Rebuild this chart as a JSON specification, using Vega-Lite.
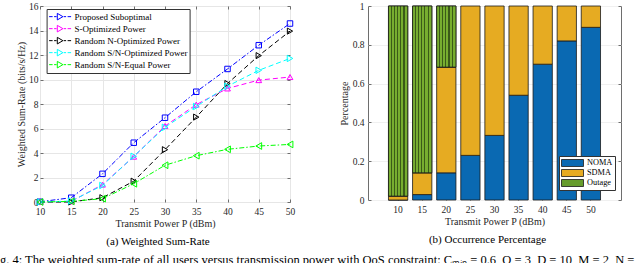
{
  "$schema": "https://vega.github.io/schema/vega-lite/v6.json",
  "background": "white",
  "padding": {"left": 0, "top": 0, "right": 0, "bottom": 0},
  "config": {
    "font": "Liberation Serif",
    "view": {"stroke": "#6e6e6e", "strokeWidth": 1},
    "axis": {
      "labelFont": "Liberation Serif", "labelFontSize": 9.5, "labelColor": "#262626", "labelFlush": false,
      "titleFont": "Liberation Serif", "titleFontSize": 10, "titleFontWeight": "normal", "titleColor": "#262626",
      "gridColor": "#e6e6e6", "gridWidth": 1, "domain": false,
      "tickColor": "#6e6e6e", "tickSize": -3, "labelPadding": 5
    },
    "title": {"font": "Liberation Serif", "fontWeight": "normal", "color": "#000000"}
  },
  "title": {
    "text": "g. 4: The weighted sum-rate of all users versus transmission power with QoS constraint: Cₘᵢₙ = 0.6, Q = 3, D = 10, M = 2, N =",
    "orient": "bottom", "anchor": "start", "dx": -16, "fontSize": 12.5, "offset": 7
  },
  "spacing": 42,
  "resolve": {"scale": {"color": "independent", "shape": "independent", "size": "independent", "strokeDash": "independent"}, "legend": {"color": "independent", "shape": "independent"}},
  "hconcat": [
    {
      "width": 250, "height": 196,
      "title": {"text": "(a) Weighted Sum-Rate", "orient": "bottom", "anchor": "middle", "dx": -7, "fontSize": 11, "offset": 7},
      "data": {"values": [
        {"power": 10, "scheme": "Proposed Suboptimal", "rate": 0.02},
        {"power": 15, "scheme": "Proposed Suboptimal", "rate": 0.35},
        {"power": 20, "scheme": "Proposed Suboptimal", "rate": 2.3},
        {"power": 25, "scheme": "Proposed Suboptimal", "rate": 4.84},
        {"power": 30, "scheme": "Proposed Suboptimal", "rate": 6.88},
        {"power": 35, "scheme": "Proposed Suboptimal", "rate": 9.0},
        {"power": 40, "scheme": "Proposed Suboptimal", "rate": 10.86},
        {"power": 45, "scheme": "Proposed Suboptimal", "rate": 12.8},
        {"power": 50, "scheme": "Proposed Suboptimal", "rate": 14.57},
        {"power": 10, "scheme": "S-Optimized Power", "rate": 0.0},
        {"power": 15, "scheme": "S-Optimized Power", "rate": 0.05},
        {"power": 20, "scheme": "S-Optimized Power", "rate": 1.42},
        {"power": 25, "scheme": "S-Optimized Power", "rate": 3.7},
        {"power": 30, "scheme": "S-Optimized Power", "rate": 6.2},
        {"power": 35, "scheme": "S-Optimized Power", "rate": 7.95},
        {"power": 40, "scheme": "S-Optimized Power", "rate": 9.27},
        {"power": 45, "scheme": "S-Optimized Power", "rate": 9.95},
        {"power": 50, "scheme": "S-Optimized Power", "rate": 10.2},
        {"power": 10, "scheme": "Random N-Optimized Power", "rate": 0.0},
        {"power": 15, "scheme": "Random N-Optimized Power", "rate": 0.0},
        {"power": 20, "scheme": "Random N-Optimized Power", "rate": 0.35},
        {"power": 25, "scheme": "Random N-Optimized Power", "rate": 1.7},
        {"power": 30, "scheme": "Random N-Optimized Power", "rate": 4.27},
        {"power": 35, "scheme": "Random N-Optimized Power", "rate": 6.93},
        {"power": 40, "scheme": "Random N-Optimized Power", "rate": 9.67},
        {"power": 45, "scheme": "Random N-Optimized Power", "rate": 11.95},
        {"power": 50, "scheme": "Random N-Optimized Power", "rate": 13.95},
        {"power": 10, "scheme": "Random S/N-Optimized Power", "rate": 0.0},
        {"power": 15, "scheme": "Random S/N-Optimized Power", "rate": 0.08},
        {"power": 20, "scheme": "Random S/N-Optimized Power", "rate": 1.35},
        {"power": 25, "scheme": "Random S/N-Optimized Power", "rate": 3.73},
        {"power": 30, "scheme": "Random S/N-Optimized Power", "rate": 6.1},
        {"power": 35, "scheme": "Random S/N-Optimized Power", "rate": 7.8},
        {"power": 40, "scheme": "Random S/N-Optimized Power", "rate": 9.45},
        {"power": 45, "scheme": "Random S/N-Optimized Power", "rate": 10.75},
        {"power": 50, "scheme": "Random S/N-Optimized Power", "rate": 11.72},
        {"power": 10, "scheme": "Random S/N-Equal Power", "rate": 0.0},
        {"power": 15, "scheme": "Random S/N-Equal Power", "rate": 0.05},
        {"power": 20, "scheme": "Random S/N-Equal Power", "rate": 0.27},
        {"power": 25, "scheme": "Random S/N-Equal Power", "rate": 1.49},
        {"power": 30, "scheme": "Random S/N-Equal Power", "rate": 3.0},
        {"power": 35, "scheme": "Random S/N-Equal Power", "rate": 3.78},
        {"power": 40, "scheme": "Random S/N-Equal Power", "rate": 4.3},
        {"power": 45, "scheme": "Random S/N-Equal Power", "rate": 4.57},
        {"power": 50, "scheme": "Random S/N-Equal Power", "rate": 4.7}
      ]},
      "encoding": {
        "x": {"field": "power", "type": "quantitative", "scale": {"domain": [10, 50], "nice": false},
              "axis": {"orient": "bottom", "title": "Transmit Power  P (dBm)", "values": [10, 15, 20, 25, 30, 35, 40, 45, 50], "titlePadding": 3, "labelPadding": 7}},
        "y": {"field": "rate", "type": "quantitative", "scale": {"domain": [0, 16], "nice": false},
              "axis": {"orient": "left", "title": "Weighted Sum-Rate (bits/s/Hz)", "values": [0, 2, 4, 6, 8, 10, 12, 14, 16], "titlePadding": 2}}
      },
      "layer": [
        {
          "mark": {"type": "line", "strokeWidth": 1},
          "encoding": {
            "stroke": {"field": "scheme", "type": "nominal", "sort": null,
                       "scale": {"range": ["#0000ff", "#ff00ff", "#000000", "#00ffff", "#00ff00"]},
                       "legend": null},
            "strokeDash": {"field": "scheme", "type": "nominal", "sort": null,
                           "scale": {"range": [[5, 2, 1.5, 2], [5, 3], [5, 3], [5, 3], [5, 2, 1.5, 2]]},
                           "legend": null}
          }
        },
        {
          "mark": {"type": "point", "filled": false, "strokeWidth": 1, "opacity": 1},
          "encoding": {
            "x": {"field": "power", "type": "quantitative",
                  "axis": {"orient": "top", "labels": false, "title": null, "grid": false, "values": [10, 15, 20, 25, 30, 35, 40, 45, 50]}},
            "y": {"field": "rate", "type": "quantitative",
                  "axis": {"orient": "right", "labels": false, "title": null, "grid": false, "values": [0, 2, 4, 6, 8, 10, 12, 14, 16]}},
            "color": {"field": "scheme", "type": "nominal",
                      "scale": {"domain": ["Proposed Suboptimal", "S-Optimized Power", "Random N-Optimized Power", "Random S/N-Optimized Power", "Random S/N-Equal Power"],
                                "range": ["#0000ff", "#ff00ff", "#000000", "#00ffff", "#00ff00"]},
                      "legend": {
                        "title": null, "orient": "none", "legendX": 6.6, "legendY": 3,
                        "fillColor": "white", "strokeColor": "#333333", "padding": 2,
                        "symbolType": "M-1,0H-0.125M0.25,0H0.875M2.45,0L1.05,-0.825L1.05,0.825ZM2.625,0H3.25M3.625,0H4.5",
                        "symbolSize": 64, "symbolStrokeWidth": 1, "symbolOpacity": 1, "symbolFillColor": "transparent",
                        "labelFont": "Liberation Serif", "labelFontSize": 9, "labelColor": "#000000", "labelOffset": 17, "rowPadding": 0, "clipHeight": 11.3
                      }},
            "size": {"field": "scheme", "type": "nominal", "sort": null,
                     "scale": {"range": [30, 45, 45, 45, 45]}, "legend": null},
            "shape": {"field": "scheme", "type": "nominal", "sort": null,
                      "scale": {"range": ["square", "triangle-up", "triangle-right", "triangle-right", "triangle-left"]},
                      "legend": null}
          }
        }
      ]
    },
    {
      "width": 253, "height": 194,
      "title": {"text": "(b) Occurrence Percentage", "orient": "bottom", "anchor": "middle", "dx": -7, "fontSize": 11, "offset": 7},
      "data": {"values": [
        {"power": 10, "type": "NOMA", "share": 0.0},
        {"power": 10, "type": "SDMA", "share": 0.02},
        {"power": 10, "type": "Outage", "share": 0.98},
        {"power": 15, "type": "NOMA", "share": 0.028},
        {"power": 15, "type": "SDMA", "share": 0.112},
        {"power": 15, "type": "Outage", "share": 0.86},
        {"power": 20, "type": "NOMA", "share": 0.14},
        {"power": 20, "type": "SDMA", "share": 0.545},
        {"power": 20, "type": "Outage", "share": 0.315},
        {"power": 25, "type": "NOMA", "share": 0.23},
        {"power": 25, "type": "SDMA", "share": 0.77},
        {"power": 30, "type": "NOMA", "share": 0.333},
        {"power": 30, "type": "SDMA", "share": 0.667},
        {"power": 35, "type": "NOMA", "share": 0.54},
        {"power": 35, "type": "SDMA", "share": 0.46},
        {"power": 40, "type": "NOMA", "share": 0.70},
        {"power": 40, "type": "SDMA", "share": 0.30},
        {"power": 45, "type": "NOMA", "share": 0.82},
        {"power": 45, "type": "SDMA", "share": 0.18},
        {"power": 50, "type": "NOMA", "share": 0.89},
        {"power": 50, "type": "SDMA", "share": 0.11}
      ]},
      "transform": [{"stack": "share", "groupby": ["power"], "as": ["y0", "y1"]}],
      "encoding": {
        "x": {"field": "power", "type": "ordinal", "scale": {"paddingInner": 0.2, "paddingOuter": 0.85},
              "axis": {"orient": "bottom", "labelAngle": 0, "title": "Transmit Power  P (dBm)", "grid": false, "titlePadding": 3, "labelPadding": 7}},
        "y": {"field": "y1", "type": "quantitative", "scale": {"domain": [0, 1], "nice": false},
              "axis": {"orient": "left", "title": "Percentage", "values": [0, 0.2, 0.4, 0.6, 0.8, 1], "format": "~g", "titlePadding": 3, "labelPadding": 7, "gridColor": "#f0f0f0"}},
        "y2": {"field": "y0"}
      },
      "layer": [
        {
          "mark": {"type": "bar", "stroke": "#1a1a1a", "strokeWidth": 0.8},
          "encoding": {
            "color": {"field": "type", "type": "nominal",
                      "scale": {"domain": ["NOMA", "SDMA", "Outage"], "range": ["#0a69b2", "#e6ab22", "#669c2c"]},
                      "legend": {
                        "title": null, "orient": "none", "legendX": 191, "legendY": 150,
                        "fillColor": "white", "strokeColor": "#333333", "padding": 2,
                        "symbolType": "M-1,-0.875H4.5V0.875H-1Z", "symbolSize": 64, "symbolStrokeColor": "#1a1a1a", "symbolStrokeWidth": 0.8,
                        "labelFont": "Liberation Serif", "labelFontSize": 8.3, "labelColor": "#000000", "labelOffset": 17, "rowPadding": 0, "clipHeight": 10
                      }}
          }
        },
        {
          "transform": [{"filter": "datum.type === 'Outage'"}],
          "mark": {"type": "bar", "stroke": "#1a1a1a", "strokeWidth": 0.8,
                   "fill": {"gradient": "linear", "x1": 0, "x2": 1, "y1": 0, "y2": 0, "stops": [
                     {"offset": 0, "color": "#77ad30"}, {"offset": 0.11, "color": "#77ad30"}, {"offset": 0.11, "color": "#3a5a18"}, {"offset": 0.1667, "color": "#3a5a18"}, {"offset": 0.1667, "color": "#77ad30"},
                     {"offset": 0.277, "color": "#77ad30"}, {"offset": 0.277, "color": "#3a5a18"}, {"offset": 0.333, "color": "#3a5a18"}, {"offset": 0.333, "color": "#77ad30"},
                     {"offset": 0.443, "color": "#77ad30"}, {"offset": 0.443, "color": "#3a5a18"}, {"offset": 0.5, "color": "#3a5a18"}, {"offset": 0.5, "color": "#77ad30"},
                     {"offset": 0.61, "color": "#77ad30"}, {"offset": 0.61, "color": "#3a5a18"}, {"offset": 0.667, "color": "#3a5a18"}, {"offset": 0.667, "color": "#77ad30"},
                     {"offset": 0.777, "color": "#77ad30"}, {"offset": 0.777, "color": "#3a5a18"}, {"offset": 0.833, "color": "#3a5a18"}, {"offset": 0.833, "color": "#77ad30"},
                     {"offset": 1, "color": "#77ad30"}
                   ]}},
          "encoding": {
            "x": {"field": "power", "type": "ordinal", "axis": null},
            "y": {"field": "y1", "type": "quantitative", "axis": null}
          }
        },
        {
          "mark": {"type": "bar", "opacity": 0},
          "encoding": {
            "x": {"field": "power", "type": "ordinal", "axis": {"orient": "top", "labels": false, "title": null, "grid": false}},
            "y": {"field": "y1", "type": "quantitative", "axis": {"orient": "right", "labels": false, "title": null, "grid": false, "values": [0, 0.2, 0.4, 0.6, 0.8, 1]}}
          }
        }
      ]
    }
  ]
}
